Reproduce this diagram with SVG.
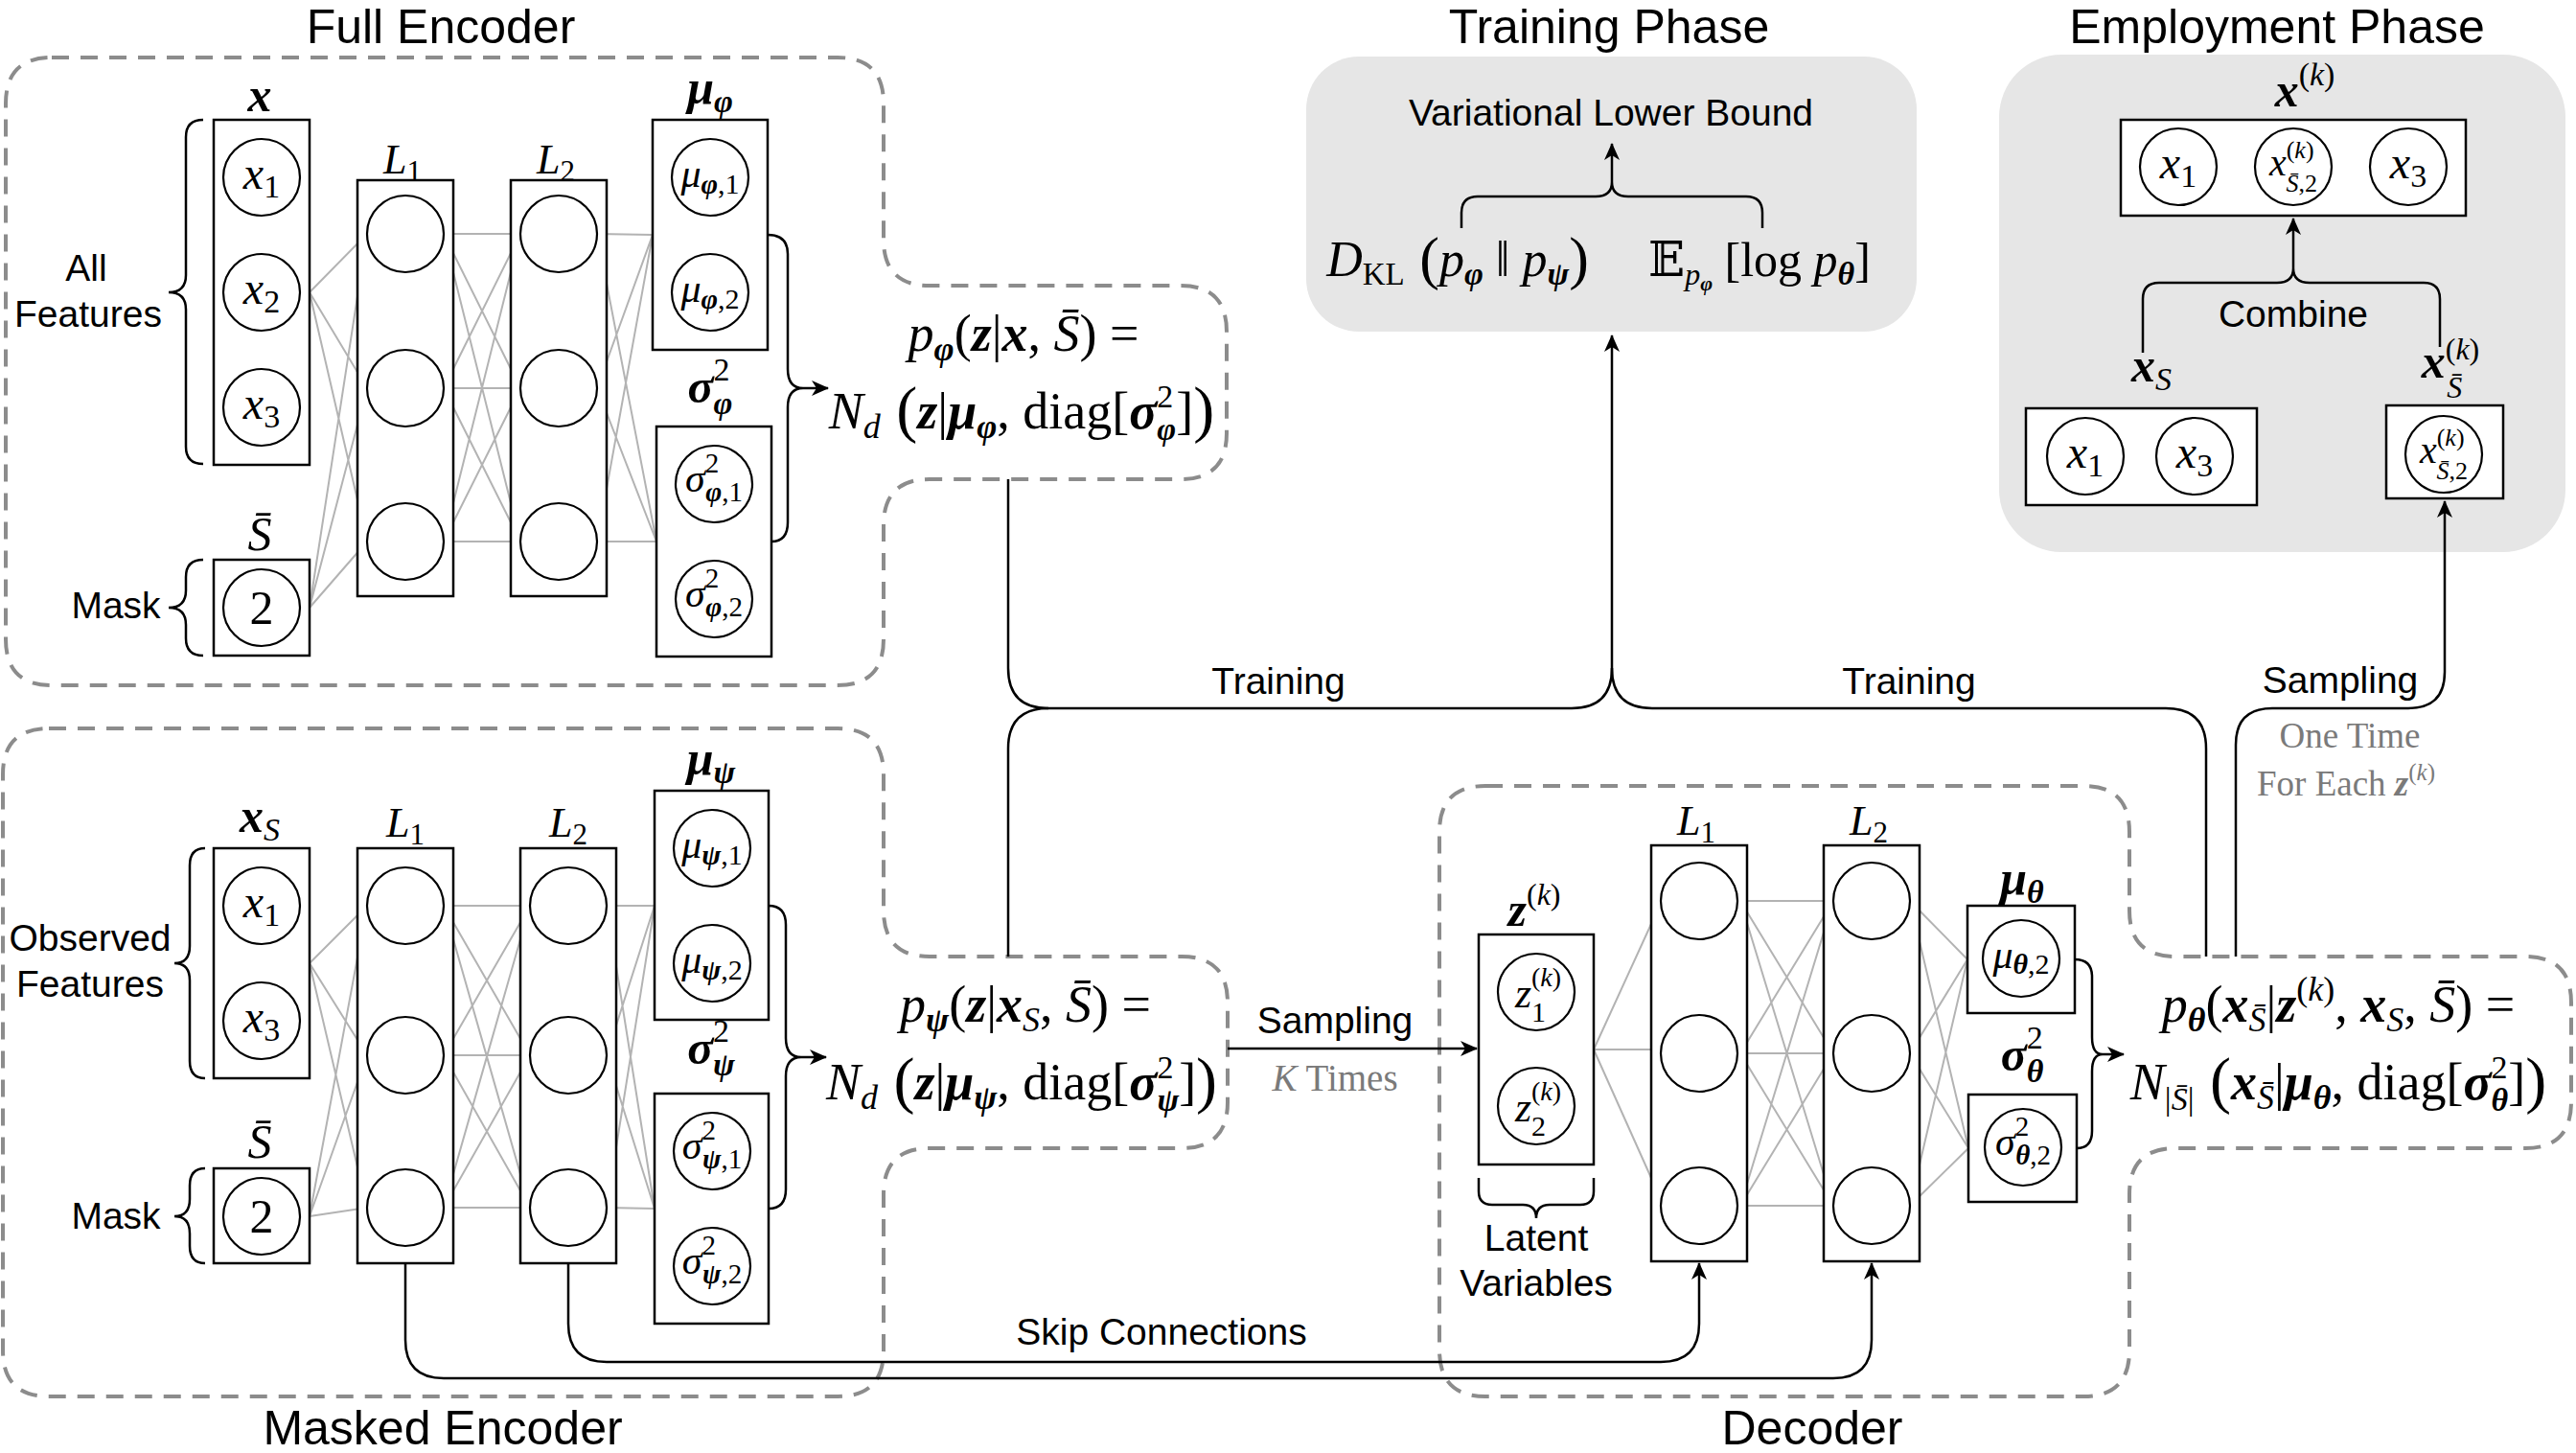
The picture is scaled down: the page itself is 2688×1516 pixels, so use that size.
<svg xmlns="http://www.w3.org/2000/svg" width="2688" height="1516" viewBox="0 0 2688 1516">
<defs>
<style>
.s{font-family:"Liberation Sans",Arial,sans-serif;font-size:39px;fill:#000;text-anchor:middle}
.t{font-family:"Liberation Sans",Arial,sans-serif;font-size:50px;fill:#000;text-anchor:middle}
.m{font-family:"Liberation Serif","DejaVu Serif",serif;fill:#000;text-anchor:middle}
.g{fill:#7a7a7a}
.i{font-style:italic}
.b{font-style:italic;font-weight:bold}
.box{fill:#fff;stroke:#000;stroke-width:2.5}
.nd{fill:#fff;stroke:#000;stroke-width:2.2}
.dash{fill:none;stroke:#8c8c8c;stroke-width:4;stroke-dasharray:18 12}
.bg{fill:#e6e6e6}
.w{fill:none;stroke:#b3b3b3;stroke-width:2}
.k{fill:none;stroke:#000;stroke-width:2.5}
.ka{fill:none;stroke:#000;stroke-width:2.5;marker-end:url(#ah)}
</style>
<marker id="ah" viewBox="0 0 18 16" refX="17" refY="8" markerWidth="18" markerHeight="16" markerUnits="userSpaceOnUse" orient="auto"><path d="M0,0 L18,8 L0,16 L5,8 Z" fill="#000"/></marker>
</defs>
<rect width="2688" height="1516" fill="#fff"/>

<g id="regions">
<path class="dash" d="M54,60 H874 Q922,60 922,108 V250 Q922,298 970,298 H1232 Q1280,298 1280,346 V452 Q1280,500 1232,500 H970 Q922,500 922,548 V667 Q922,715 874,715 H54 Q6,715 6,667 V108 Q6,60 54,60 Z"/>
<path class="dash" d="M51,760 H874 Q922,760 922,808 V950 Q922,998 970,998 H1233 Q1281,998 1281,1046 V1150 Q1281,1198 1233,1198 H970 Q922,1198 922,1246 V1409 Q922,1457 874,1457 H51 Q3,1457 3,1409 V808 Q3,760 51,760 Z"/>
<path class="dash" d="M1550,820 H2174 Q2222,820 2222,868 V950 Q2222,998 2270,998 H2635 Q2683,998 2683,1046 V1150 Q2683,1198 2635,1198 H2270 Q2222,1198 2222,1246 V1409 Q2222,1457 2174,1457 H1550 Q1502,1457 1502,1409 V868 Q1502,820 1550,820 Z"/>
<rect class="bg" x="1363" y="59" width="637" height="287" rx="55"/>
<rect class="bg" x="2086" y="57" width="591" height="519" rx="65"/>
<text class="t" x="460" y="45">Full Encoder</text>
<text class="t" x="462" y="1507">Masked Encoder</text>
<text class="t" x="1891" y="1507">Decoder</text>
<text class="t" x="1679" y="45">Training Phase</text>
<text class="t" x="2376" y="45">Employment Phase</text>
</g>

<g id="connectors">
<path class="w" d="M323,305 L383,244 M323,305 L383,405 M323,305 L383,565 M323,634 L383,244 M323,634 L383,405 M323,634 L383,565 M463,244 L543,244 M463,244 L543,405 M463,244 L543,565 M463,405 L543,244 M463,405 L543,405 M463,405 L543,565 M463,565 L543,244 M463,565 L543,405 M463,565 L543,565 M623,244 L681,245 M623,405 L681,245 M623,565 L681,245 M623,244 L685,565 M623,405 L685,565 M623,565 L685,565"/>
<path class="w" d="M323,1005 L383,945 M323,1005 L383,1101 M323,1005 L383,1260 M323,1269 L383,945 M323,1269 L383,1101 M323,1269 L383,1260 M463,945 L553,945 M463,945 L553,1101 M463,945 L553,1260 M463,1101 L553,945 M463,1101 L553,1101 M463,1101 L553,1260 M463,1260 L553,945 M463,1260 L553,1101 M463,1260 L553,1260 M633,945 L683,945 M633,1101 L683,945 M633,1260 L683,945 M633,945 L683,1261 M633,1101 L683,1261 M633,1260 L683,1261"/>
<path class="w" d="M1663,1095 L1723,964 M1663,1095 L1723,1095 M1663,1095 L1723,1229 M1816,940 L1913,940 M1816,940 L1913,1099 M1816,940 L1913,1258 M1816,1099 L1913,940 M1816,1099 L1913,1099 M1816,1099 L1913,1258 M1816,1258 L1913,940 M1816,1258 L1913,1099 M1816,1258 L1913,1258 M1993,940 L2053,1001 M1993,1099 L2053,1001 M1993,1258 L2053,1001 M1993,940 L2054,1198 M1993,1099 L2054,1198 M1993,1258 L2054,1198"/>

<path class="k" d="M212,125 Q194,125 194,143 V287 Q194,305 176,305 Q194,305 194,323 V466 Q194,484 212,484"/>
<path class="k" d="M212,584 Q194,584 194,602 V616 Q194,634 176,634 Q194,634 194,652 V666 Q194,684 212,684"/>
<path class="k" d="M214,885 Q198,885 198,903 V987 Q198,1005 182,1005 Q198,1005 198,1023 V1107 Q198,1125 214,1125"/>
<path class="k" d="M214,1219 Q198,1219 198,1237 V1251 Q198,1269 182,1269 Q198,1269 198,1287 V1300 Q198,1318 214,1318"/>
<path class="k" d="M801,245 Q822,245 822,265 V385 Q822,405 838,405 Q822,405 822,425 V545 Q822,565 805,565"/>
<path class="ka" d="M838,405 H864"/>
<path class="k" d="M802,945 Q820,945 820,965 V1083 Q820,1103 836,1103 Q820,1103 820,1123 V1241 Q820,1261 802,1261"/>
<path class="ka" d="M836,1103 H862"/>
<path class="k" d="M2165,1001 Q2183,1001 2183,1019 V1082 Q2183,1100 2194,1100 Q2183,1100 2183,1118 V1180 Q2183,1198 2167,1198"/>
<path class="ka" d="M2194,1100 H2216"/>
<path class="k" d="M1543,1229 V1243 Q1543,1257 1557,1257 H1589 Q1603,1257 1603,1271 Q1603,1257 1617,1257 H1649 Q1663,1257 1663,1243 V1229"/>
<path class="k" d="M1525,238 V222 Q1525,205 1542,205 H1665 Q1682,205 1682,190 Q1682,205 1699,205 H1822 Q1839,205 1839,222 V238"/>
<path class="ka" d="M1682,190 V150"/>
<path class="k" d="M2236,368 V312 Q2236,295 2253,295 H2376 Q2393,295 2393,280 Q2393,295 2410,295 H2529 Q2546,295 2546,312 V362"/>
<path class="ka" d="M2393,280 V228"/>

<path class="ka" d="M1052,500 V697 Q1052,739 1094,739 H1640 Q1682,739 1682,697 V350"/>
<path class="k" d="M1052,998 V781 Q1052,739 1094,739"/>
<path class="k" d="M2302,998 V781 Q2302,739 2260,739 H1724 Q1682,739 1682,697"/>
<path class="ka" d="M2333,998 V777 Q2333,739 2371,739 H2513 Q2551,739 2551,701 V523"/>
<path class="ka" d="M1281,1094 H1541"/>
<path class="ka" d="M593,1318 V1381 Q593,1421 633,1421 H1733 Q1773,1421 1773,1381 V1318"/>
<path class="ka" d="M423,1318 V1398 Q423,1438 463,1438 H1913 Q1953,1438 1953,1398 V1318"/>

<text class="s" x="90" y="293">All</text>
<text class="s" x="92" y="341">Features</text>
<text class="s" x="121" y="645">Mask</text>
<text class="s" x="94" y="992">Observed</text>
<text class="s" x="94" y="1040">Features</text>
<text class="s" x="121" y="1282">Mask</text>
<text class="s" x="1334" y="724">Training</text>
<text class="s" x="1992" y="724">Training</text>
<text class="s" x="2442" y="723">Sampling</text>
<text class="m g" x="2452" y="780" font-size="37">One Time</text>
<text class="m g" x="2448" y="830" font-size="37">For Each <tspan class="b">z</tspan><tspan font-size="25" dy="-16">(<tspan class="i">k</tspan>)</tspan></text>
<text class="s" x="1393" y="1078">Sampling</text>
<text class="m g" x="1393" y="1138" font-size="39"><tspan class="i">K</tspan> Times</text>
<text class="s" x="1212" y="1403">Skip Connections</text>
<text class="s" x="2393" y="341">Combine</text>
<text class="s" x="1603" y="1305">Latent</text>
<text class="s" x="1603" y="1352">Variables</text>
</g>

<!-- Full Encoder -->
<g id="fe-x">
<text class="m b" x="271" y="116" font-size="50">x</text>
<rect class="box" x="223" y="125" width="100" height="360"/>
<circle class="nd" cx="273" cy="185" r="40"/><circle class="nd" cx="273" cy="305" r="40"/><circle class="nd" cx="273" cy="425" r="40"/>
<text class="m" x="273" y="197" font-size="48"><tspan class="i">x</tspan><tspan font-size="34" dy="9">1</tspan></text>
<text class="m" x="273" y="317" font-size="48"><tspan class="i">x</tspan><tspan font-size="34" dy="9">2</tspan></text>
<text class="m" x="273" y="437" font-size="48"><tspan class="i">x</tspan><tspan font-size="34" dy="9">3</tspan></text>
</g>
<g id="fe-mask">
<text class="m i" x="271" y="574" font-size="50">S̄</text>
<rect class="box" x="223" y="584" width="100" height="100"/>
<circle class="nd" cx="273" cy="634" r="40"/>
<text class="m" x="273" y="651" font-size="50">2</text>
</g>
<g id="fe-l1">
<text class="m" x="420" y="181" font-size="44"><tspan class="i">L</tspan><tspan font-size="31" dy="8">1</tspan></text>
<rect class="box" x="373" y="188" width="100" height="434"/>
<circle class="nd" cx="423" cy="244" r="40"/><circle class="nd" cx="423" cy="405" r="40"/><circle class="nd" cx="423" cy="565" r="40"/>
</g>
<g id="fe-l2">
<text class="m" x="580" y="181" font-size="44"><tspan class="i">L</tspan><tspan font-size="31" dy="8">2</tspan></text>
<rect class="box" x="533" y="188" width="100" height="434"/>
<circle class="nd" cx="583" cy="244" r="40"/><circle class="nd" cx="583" cy="405" r="40"/><circle class="nd" cx="583" cy="565" r="40"/>
</g>
<g id="fe-mu">
<text class="m" x="741" y="108" font-size="50"><tspan class="b">μ</tspan><tspan class="b" font-size="34" dy="9">φ</tspan></text>
<rect class="box" x="681" y="125" width="120" height="240"/>
<circle class="nd" cx="741" cy="185" r="40"/><circle class="nd" cx="741" cy="305" r="40"/>
<text class="m" x="741" y="195" font-size="42"><tspan class="i">μ</tspan><tspan class="b" font-size="30" dy="7">φ</tspan><tspan font-size="30">,1</tspan></text>
<text class="m" x="741" y="315" font-size="42"><tspan class="i">μ</tspan><tspan class="b" font-size="30" dy="7">φ</tspan><tspan font-size="30">,2</tspan></text>
</g>
<g id="fe-sigma">
<text class="m" x="741" y="420" font-size="50"><tspan class="b">σ</tspan><tspan font-size="34" dy="-23">2</tspan><tspan class="b" font-size="34" dx="-17" dy="35">φ</tspan></text>
<rect class="box" x="685" y="445" width="120" height="240"/>
<circle class="nd" cx="745" cy="505" r="40"/><circle class="nd" cx="745" cy="625" r="40"/>
<text class="m" x="745" y="513" font-size="42"><tspan class="i">σ</tspan><tspan font-size="29" dy="-20">2</tspan><tspan class="b" font-size="29" dx="-14" dy="30">φ</tspan><tspan font-size="29">,1</tspan></text>
<text class="m" x="745" y="633" font-size="42"><tspan class="i">σ</tspan><tspan font-size="29" dy="-20">2</tspan><tspan class="b" font-size="29" dx="-14" dy="30">φ</tspan><tspan font-size="29">,2</tspan></text>
</g>
<g id="fe-posterior">
<text class="m" x="1068" y="366" font-size="54"><tspan class="i">p</tspan><tspan class="b" font-size="36" dy="10">φ</tspan><tspan dy="-10">(</tspan><tspan class="b">z</tspan>|<tspan class="b">x</tspan>, <tspan class="i">S̄</tspan>) =</text>
<text class="m" x="1066" y="447" font-size="54"><tspan class="i">N</tspan><tspan class="i" font-size="36" dy="10">d</tspan><tspan font-size="66" dy="-8"> (</tspan><tspan class="b" dy="-2">z</tspan>|<tspan class="b">μ</tspan><tspan class="b" font-size="36" dy="10">φ</tspan><tspan dy="-10">, diag[</tspan><tspan class="b">σ</tspan><tspan font-size="34" dy="-22">2</tspan><tspan class="b" font-size="34" dx="-17" dy="34">φ</tspan><tspan dy="-12">]</tspan><tspan font-size="66" dy="2">)</tspan></text>
</g>

<!-- Masked Encoder -->
<g id="me-xs">
<text class="m" x="271" y="868" font-size="50"><tspan class="b">x</tspan><tspan class="i" font-size="34" dy="9">S</tspan></text>
<rect class="box" x="223" y="885" width="100" height="240"/>
<circle class="nd" cx="273" cy="945" r="40"/><circle class="nd" cx="273" cy="1065" r="40"/>
<text class="m" x="273" y="957" font-size="48"><tspan class="i">x</tspan><tspan font-size="34" dy="9">1</tspan></text>
<text class="m" x="273" y="1077" font-size="48"><tspan class="i">x</tspan><tspan font-size="34" dy="9">3</tspan></text>
</g>
<g id="me-mask">
<text class="m i" x="271" y="1208" font-size="50">S̄</text>
<rect class="box" x="223" y="1219" width="100" height="99"/>
<circle class="nd" cx="273" cy="1269" r="40"/>
<text class="m" x="273" y="1286" font-size="50">2</text>
</g>
<g id="me-l1">
<text class="m" x="423" y="873" font-size="44"><tspan class="i">L</tspan><tspan font-size="31" dy="8">1</tspan></text>
<rect class="box" x="373" y="885" width="100" height="433"/>
<circle class="nd" cx="423" cy="945" r="40"/><circle class="nd" cx="423" cy="1101" r="40"/><circle class="nd" cx="423" cy="1260" r="40"/>
</g>
<g id="me-l2">
<text class="m" x="593" y="873" font-size="44"><tspan class="i">L</tspan><tspan font-size="31" dy="8">2</tspan></text>
<rect class="box" x="543" y="885" width="100" height="433"/>
<circle class="nd" cx="593" cy="945" r="40"/><circle class="nd" cx="593" cy="1101" r="40"/><circle class="nd" cx="593" cy="1260" r="40"/>
</g>
<g id="me-mu">
<text class="m" x="742" y="808" font-size="50"><tspan class="b">μ</tspan><tspan class="b" font-size="34" dy="9">ψ</tspan></text>
<rect class="box" x="683" y="825" width="119" height="239"/>
<circle class="nd" cx="743" cy="885" r="40"/><circle class="nd" cx="743" cy="1005" r="40"/>
<text class="m" x="743" y="895" font-size="42"><tspan class="i">μ</tspan><tspan class="b" font-size="30" dy="7">ψ</tspan><tspan font-size="30">,1</tspan></text>
<text class="m" x="743" y="1015" font-size="42"><tspan class="i">μ</tspan><tspan class="b" font-size="30" dy="7">ψ</tspan><tspan font-size="30">,2</tspan></text>
</g>
<g id="me-sigma">
<text class="m" x="742" y="1110" font-size="50"><tspan class="b">σ</tspan><tspan font-size="34" dy="-23">2</tspan><tspan class="b" font-size="34" dx="-17" dy="35">ψ</tspan></text>
<rect class="box" x="683" y="1141" width="119" height="240"/>
<circle class="nd" cx="743" cy="1201" r="40"/><circle class="nd" cx="743" cy="1321" r="40"/>
<text class="m" x="743" y="1209" font-size="42"><tspan class="i">σ</tspan><tspan font-size="29" dy="-20">2</tspan><tspan class="b" font-size="29" dx="-14" dy="30">ψ</tspan><tspan font-size="29">,1</tspan></text>
<text class="m" x="743" y="1329" font-size="42"><tspan class="i">σ</tspan><tspan font-size="29" dy="-20">2</tspan><tspan class="b" font-size="29" dx="-14" dy="30">ψ</tspan><tspan font-size="29">,2</tspan></text>
</g>
<g id="me-prior">
<text class="m" x="1070" y="1066" font-size="54"><tspan class="i">p</tspan><tspan class="b" font-size="36" dy="10">ψ</tspan><tspan dy="-10">(</tspan><tspan class="b">z</tspan>|<tspan class="b">x</tspan><tspan class="i" font-size="36" dy="10">S</tspan><tspan dy="-10">, </tspan><tspan class="i">S̄</tspan>) =</text>
<text class="m" x="1066" y="1147" font-size="54"><tspan class="i">N</tspan><tspan class="i" font-size="36" dy="10">d</tspan><tspan font-size="66" dy="-8"> (</tspan><tspan class="b" dy="-2">z</tspan>|<tspan class="b">μ</tspan><tspan class="b" font-size="36" dy="10">ψ</tspan><tspan dy="-10">, diag[</tspan><tspan class="b">σ</tspan><tspan font-size="34" dy="-22">2</tspan><tspan class="b" font-size="34" dx="-17" dy="34">ψ</tspan><tspan dy="-12">]</tspan><tspan font-size="66" dy="2">)</tspan></text>
</g>

<!-- Decoder -->
<g id="dec-z">
<text class="m" x="1601" y="966" font-size="50"><tspan class="b">z</tspan><tspan font-size="32" dy="-22">(<tspan class="i">k</tspan>)</tspan></text>
<rect class="box" x="1543" y="975" width="120" height="240"/>
<circle class="nd" cx="1603" cy="1035" r="40"/><circle class="nd" cx="1603" cy="1154" r="40"/>
<text class="m" x="1605" y="1051" font-size="44"><tspan class="i">z</tspan><tspan font-size="28" dy="-22">(<tspan class="i">k</tspan>)</tspan><tspan font-size="30" dx="-31" dy="37">1</tspan></text>
<text class="m" x="1605" y="1170" font-size="44"><tspan class="i">z</tspan><tspan font-size="28" dy="-22">(<tspan class="i">k</tspan>)</tspan><tspan font-size="30" dx="-31" dy="37">2</tspan></text>
</g>
<g id="dec-l1">
<text class="m" x="1770" y="871" font-size="44"><tspan class="i">L</tspan><tspan font-size="31" dy="8">1</tspan></text>
<rect class="box" x="1723" y="882" width="100" height="434"/>
<circle class="nd" cx="1773" cy="940" r="40"/><circle class="nd" cx="1773" cy="1099" r="40"/><circle class="nd" cx="1773" cy="1258" r="40"/>
</g>
<g id="dec-l2">
<text class="m" x="1950" y="871" font-size="44"><tspan class="i">L</tspan><tspan font-size="31" dy="8">2</tspan></text>
<rect class="box" x="1903" y="882" width="100" height="434"/>
<circle class="nd" cx="1953" cy="940" r="40"/><circle class="nd" cx="1953" cy="1099" r="40"/><circle class="nd" cx="1953" cy="1258" r="40"/>
</g>
<g id="dec-mu">
<text class="m" x="2110" y="933" font-size="50"><tspan class="b">μ</tspan><tspan class="b" font-size="34" dy="9">θ</tspan></text>
<rect class="box" x="2053" y="945" width="112" height="112"/>
<circle class="nd" cx="2109" cy="1000" r="40"/>
<text class="m" x="2109" y="1010" font-size="42"><tspan class="i">μ</tspan><tspan class="b" font-size="30" dy="6">θ</tspan><tspan font-size="30">,2</tspan></text>
</g>
<g id="dec-sigma">
<text class="m" x="2110" y="1117" font-size="50"><tspan class="b">σ</tspan><tspan font-size="34" dy="-23">2</tspan><tspan class="b" font-size="34" dx="-17" dy="35">θ</tspan></text>
<rect class="box" x="2054" y="1142" width="113" height="112"/>
<circle class="nd" cx="2111" cy="1197" r="40"/>
<text class="m" x="2111" y="1205" font-size="42"><tspan class="i">σ</tspan><tspan font-size="29" dy="-20">2</tspan><tspan class="b" font-size="29" dx="-14" dy="30">θ</tspan><tspan font-size="29">,2</tspan></text>
</g>
<g id="dec-likelihood">
<text class="m" x="2440" y="1066" font-size="54"><tspan class="i">p</tspan><tspan class="b" font-size="36" dy="10">θ</tspan><tspan dy="-10">(</tspan><tspan class="b">x</tspan><tspan class="i" font-size="36" dy="10">S̄</tspan><tspan dy="-10">|</tspan><tspan class="b">z</tspan><tspan font-size="36" dy="-22">(<tspan class="i">k</tspan>)</tspan><tspan dy="22">, </tspan><tspan class="b">x</tspan><tspan class="i" font-size="36" dy="10">S</tspan><tspan dy="-10">, </tspan><tspan class="i">S̄</tspan>) =</text>
<text class="m" x="2440" y="1147" font-size="54"><tspan class="i">N</tspan><tspan font-size="34" dy="11">|<tspan class="i">S̄</tspan>|</tspan><tspan font-size="66" dy="-9"> (</tspan><tspan class="b" dy="-2">x</tspan><tspan class="i" font-size="36" dy="10">S̄</tspan><tspan dy="-10">|</tspan><tspan class="b">μ</tspan><tspan class="b" font-size="36" dy="10">θ</tspan><tspan dy="-10">, diag[</tspan><tspan class="b">σ</tspan><tspan font-size="34" dy="-22">2</tspan><tspan class="b" font-size="34" dx="-17" dy="34">θ</tspan><tspan dy="-12">]</tspan><tspan font-size="66" dy="2">)</tspan></text>
</g>

<!-- Training Phase -->
<g id="elbo">
<text class="s" x="1681" y="131">Variational Lower Bound</text>
<text class="m" x="1521" y="288" font-size="52"><tspan class="i">D</tspan><tspan font-size="33" dy="9">KL</tspan><tspan font-size="62" dy="-7"> (</tspan><tspan class="i" dy="-2">p</tspan><tspan class="b" font-size="34" dy="9">φ</tspan><tspan dy="-9">  ‖  </tspan><tspan class="i">p</tspan><tspan class="b" font-size="34" dy="9">ψ</tspan><tspan font-size="62" dy="-7">)</tspan></text>
<text class="m" x="1836" y="288" font-size="50"><tspan>𝔼</tspan><tspan class="i" font-size="32" dy="9">p</tspan><tspan class="b" font-size="22" dy="6">φ</tspan><tspan dy="-15"> [log </tspan><tspan class="i">p</tspan><tspan class="b" font-size="34" dy="9">θ</tspan><tspan dy="-9">]</tspan></text>
</g>

<!-- Employment Phase -->
<g id="emp-xk">
<text class="m" x="2405" y="111" font-size="50"><tspan class="b">x</tspan><tspan font-size="34" dy="-22">(<tspan class="i">k</tspan>)</tspan></text>
<rect class="box" x="2213" y="125" width="360" height="100"/>
<circle class="nd" cx="2273" cy="174" r="40"/><circle class="nd" cx="2393" cy="174" r="40"/><circle class="nd" cx="2513" cy="174" r="40"/>
<text class="m" x="2273" y="186" font-size="48"><tspan class="i">x</tspan><tspan font-size="34" dy="9">1</tspan></text>
<text class="m" x="2393" y="183" font-size="40"><tspan class="i">x</tspan><tspan font-size="26" dy="-18">(<tspan class="i">k</tspan>)</tspan><tspan font-size="26" dx="-29" dy="35"><tspan class="i">S̄</tspan>,2</tspan></text>
<text class="m" x="2513" y="186" font-size="48"><tspan class="i">x</tspan><tspan font-size="34" dy="9">3</tspan></text>
</g>
<g id="emp-xs">
<text class="m" x="2245" y="398" font-size="50"><tspan class="b">x</tspan><tspan class="i" font-size="34" dy="9">S</tspan></text>
<rect class="box" x="2114" y="426" width="241" height="101"/>
<circle class="nd" cx="2176" cy="476" r="40"/><circle class="nd" cx="2290" cy="476" r="40"/>
<text class="m" x="2176" y="488" font-size="48"><tspan class="i">x</tspan><tspan font-size="34" dy="9">1</tspan></text>
<text class="m" x="2290" y="488" font-size="48"><tspan class="i">x</tspan><tspan font-size="34" dy="9">3</tspan></text>
</g>
<g id="emp-xsbar">
<text class="m" x="2557" y="394" font-size="50"><tspan class="b">x</tspan><tspan font-size="32" dy="-19">(<tspan class="i">k</tspan>)</tspan><tspan class="i" font-size="32" dx="-34" dy="40">S̄</tspan></text>
<rect class="box" x="2490" y="423" width="122" height="97"/>
<circle class="nd" cx="2550" cy="474" r="40"/>
<text class="m" x="2550" y="483" font-size="40"><tspan class="i">x</tspan><tspan font-size="26" dy="-18">(<tspan class="i">k</tspan>)</tspan><tspan font-size="26" dx="-29" dy="35"><tspan class="i">S̄</tspan>,2</tspan></text>
</g>
</svg>
